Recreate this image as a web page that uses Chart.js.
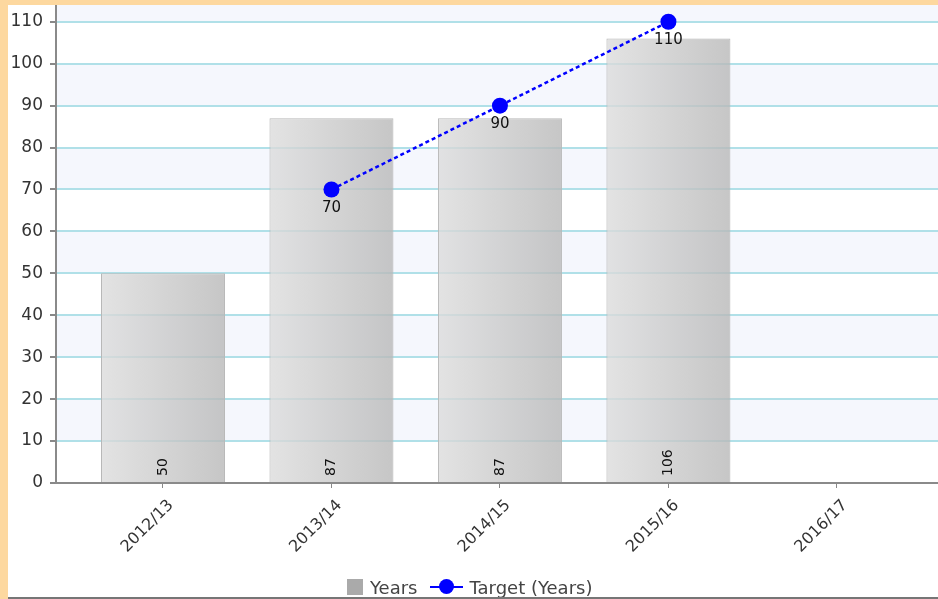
<!DOCTYPE html>
<html>
<head>
<meta charset="utf-8">
<script src="https://cdn.jsdelivr.net/npm/chart.js@4.4.1/dist/chart.umd.min.js"></script>
<style>
  html, body { margin: 0; padding: 0; }
  body { width: 938px; height: 599px; background: #fdd89f; position: relative; overflow: hidden; font-family: "DejaVu Sans", sans-serif; }
  #panel { position: absolute; left: 8px; top: 5px; width: 930px; height: 592px; background: #fff; overflow: hidden; }
  #bottomLine { position: absolute; left: 8px; top: 597px; width: 930px; height: 2px; background: #767676; }
  #chart { position: absolute; left: 0; top: 0; }
  #legend { position: absolute; left: 339px; top: 571px; height: 22px; display: flex; align-items: center; font-size: 18px; color: #444; white-space: nowrap; }
  #legend .sq { width: 16px; height: 16px; background: #aaaaaa; margin-right: 7px; }
  #legend .ln { width: 33px; height: 2px; background: #0000ff; position: relative; margin: 0 7px 0 12px; }
  #legend .ln i { position: absolute; left: 9px; top: -7px; width: 15px; height: 15px; border-radius: 50%; background: #0000ff; }
</style>
</head>
<body>
<div id="panel">
  <canvas id="chart" width="930" height="592"></canvas>
  <div id="legend"><span class="sq"></span><span>Years</span><span class="ln"><i></i></span><span>Target (Years)</span></div>
</div>
<div id="bottomLine"></div>
<script>
const categories = ['2012/13', '2013/14', '2014/15', '2015/16', '2016/17'];
const yearsValues = [50, 87, 87, 106, null];
const targetValues = [null, 70, 90, 110, null];
const yTicks = [0, 10, 20, 30, 40, 50, 60, 70, 80, 90, 100, 110];

const toPoints = (arr) => arr.map((v, i) => ({ x: i, y: v }));

// alternating pale bands behind the grid
const bandsPlugin = {
    id: 'bands',
    beforeDraw(chart) {
        const { ctx, chartArea: a, scales: { y } } = chart;
        ctx.save();
        ctx.fillStyle = '#f5f7fd';
        for (let i = 1; i < yTicks.length; i += 2) {
            const top = i + 1 < yTicks.length ? y.getPixelForValue(yTicks[i + 1]) : a.top;
            const bottom = y.getPixelForValue(yTicks[i]);
            ctx.fillRect(a.left, top, a.right - a.left, bottom - top);
        }
        ctx.restore();
    }
};

// grey horizontal gradient on each bar
const gradientPlugin = {
    id: 'barGradient',
    beforeDatasetsDraw(chart) {
        const ctx = chart.ctx;
        const meta = chart.getDatasetMeta(1);
        meta.data.forEach((bar, i) => {
            if (yearsValues[i] == null) return;
            const g = ctx.createLinearGradient(bar.x - bar.width / 2, 0, bar.x + bar.width / 2, 0);
            g.addColorStop(0, 'rgba(220,220,220,0.8)');
            g.addColorStop(1, 'rgba(184,184,184,0.8)');
            bar.options = Object.assign({}, bar.options, { backgroundColor: g });
        });
    }
};

// value labels: vertical inside bars, below the target points
const labelsPlugin = {
    id: 'valueLabels',
    afterDatasetsDraw(chart) {
        const ctx = chart.ctx;
        ctx.save();
        ctx.fillStyle = '#111';
        ctx.font = '14px "DejaVu Sans"';
        chart.getDatasetMeta(1).data.forEach((bar, i) => {
            if (yearsValues[i] == null) return;
            ctx.save();
            ctx.translate(bar.x, bar.base - 6);
            ctx.rotate(-Math.PI / 2);
            ctx.textAlign = 'left';
            ctx.textBaseline = 'middle';
            ctx.fillText(String(yearsValues[i]), 0, 0);
            ctx.restore();
        });
        ctx.font = '15px "DejaVu Sans"';
        ctx.textAlign = 'center';
        ctx.textBaseline = 'top';
        chart.getDatasetMeta(0).data.forEach((pt, i) => {
            if (targetValues[i] == null) return;
            ctx.fillText(String(targetValues[i]), pt.x, pt.y + 11);
        });
        ctx.restore();
    }
};

const ctx = document.getElementById('chart').getContext('2d');
new Chart(ctx, {
    data: {
        datasets: [
            {
                type: 'line',
                label: 'Target (Years)',
                data: toPoints(targetValues),
                order: 0,
                borderColor: '#0000ff',
                borderWidth: 2.5,
                borderDash: [4, 3],
                pointRadius: 8,
                pointHoverRadius: 8,
                pointBackgroundColor: '#0000ff',
                pointBorderWidth: 0,
                fill: false
            },
            {
                type: 'bar',
                label: 'Years',
                data: toPoints(yearsValues),
                order: 1,
                backgroundColor: 'rgba(205,205,205,0.8)',
                borderColor: '#b8b8b8',
                borderWidth: 1,
                categoryPercentage: 1,
                barPercentage: 0.736
            }
        ]
    },
    options: {
        responsive: false,
        animation: false,
        devicePixelRatio: 1,
        layout: { padding: 0, autoPadding: false },
        plugins: {
            legend: { display: false },
            tooltip: { enabled: false }
        },
        scales: {
            x: {
                type: 'linear',
                offset: false,
                min: -0.635,
                max: 4.6,
                afterBuildTicks: (axis) => { axis.ticks = categories.map((c, i) => ({ value: i })); },
                afterFit: (scale) => { scale.height = 114; scale.paddingLeft = 0; scale.paddingRight = 0; },
                ticks: {
                    autoSkip: false,
                    minRotation: 45,
                    maxRotation: 45,
                    labelOffset: 8,
                    padding: 8,
                    color: '#333',
                    font: { family: 'DejaVu Sans', size: 16 },
                    callback: (v) => categories[v]
                },
                grid: { offset: false, drawOnChartArea: false, tickLength: 5, color: '#888' },
                border: { color: '#8a8a8a', width: 2 }
            },
            y: {
                min: 0,
                max: 114,
                afterBuildTicks: (axis) => { axis.ticks = yTicks.map(v => ({ value: v })); },
                afterFit: (scale) => { scale.width = 48; scale.paddingTop = 0; scale.paddingBottom = 0; },
                ticks: {
                    padding: 7,
                    color: '#333',
                    font: { family: 'DejaVu Sans', size: 17 }
                },
                grid: { color: '#b0e0e8', lineWidth: 2, tickLength: 6, tickColor: '#888' },
                border: { color: '#8a8a8a', width: 2 }
            }
        }
    },
    plugins: [bandsPlugin, gradientPlugin, labelsPlugin]
});
</script>
</body>
</html>
